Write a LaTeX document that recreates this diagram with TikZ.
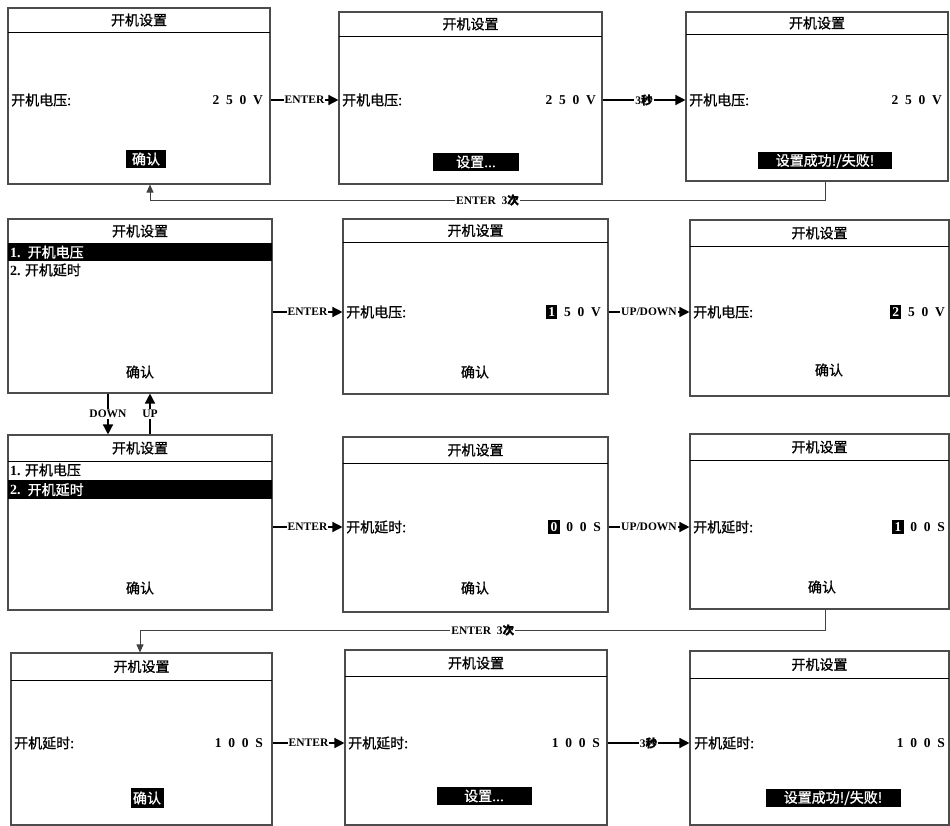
\documentclass[tikz,border=0pt]{standalone}
\usepackage{fontspec}
\setmainfont{Liberation Serif}
\newfontfamily\cjk{Noto Sans CJK SC}[FakeBold=1]
\usetikzlibrary{arrows.meta}
\newcommand{\hlt}[1]{{\setlength{\fboxsep}{2.2pt}\colorbox{black}{\textcolor{white}{#1}}}}
\tikzset{
 screen/.style={draw=black!70, line width=1.1pt, inner sep=0pt, rectangle},
 hdr/.style={draw=black, line width=0.9pt},
 ttl/.style={font=\cjk\fontsize{14}{16}\selectfont, inner sep=0pt},
 txt/.style={font=\cjk\fontsize{14}{16}\selectfont, inner sep=0pt},
 num/.style={font=\bfseries\fontsize{13.5}{15}\selectfont, inner sep=0pt},
 blk/.style={fill=black, text=white, font=\cjk\fontsize{14}{16}\selectfont, inner sep=0pt},
 bar/.style={fill=black, text=white, font=\cjk\fontsize{14}{16}\selectfont, inner ysep=0pt, inner xsep=2pt, align=left, anchor=north west},
 arr/.style={line width=1.4pt, -{Triangle[length=10pt,width=10pt]}},
 fb/.style={draw=black!75, line width=0.9pt, -{Triangle[length=8pt,width=7pt]}},
 lbl/.style={fill=white, font=\bfseries\fontsize{11.5}{13}\selectfont, inner sep=1pt}
}
\newcommand{\myscreen}[6]{%
 \node[screen, minimum width=#4pt, minimum height=#5pt] (#1) at ({#2+#4/2},{#3+#5/2}) {};
 \draw[hdr] (#2,{#3+#6}) -- ({#2+#4},{#3+#6});
 \node[ttl] (#1-t) at ({#2+#4/2},{#3+#6/2}) {开机设置};
}
\begin{document}
\begin{tikzpicture}[x=1pt,y=-1pt]
\useasboundingbox (0,0) rectangle (950,826);
\fill[white] (0,0) rectangle (950,826);

% screens
\myscreen{A}{8}{8}{262}{176}{24}
\myscreen{B}{339}{12}{263}{172}{24}
\myscreen{C}{686}{12}{262}{169}{22}
\myscreen{D}{8}{219}{264}{174}{24}
\myscreen{E}{343}{219}{265}{175}{23}
\myscreen{F}{690}{220}{259}{176}{26}
\myscreen{G}{8}{435}{264}{175}{26}
\myscreen{H}{343}{437}{265}{175}{26}
\myscreen{I}{690}{434}{259}{175}{26}
\myscreen{J}{11}{653}{261}{172}{27}
\myscreen{K}{345}{650}{262}{175}{26}
\myscreen{L}{690}{651}{259}{174}{27}

% row 1
\node[txt, anchor=west] (A-l) at (11,100) {开机电压:};
\node[num, anchor=east] (A-v) at (263,100) {2\ \ 5\ \ 0\ \ V};
\node[blk, minimum width=40pt, minimum height=18pt] (A-b) at (146,159) {确认};
\node[txt, anchor=west] (B-l) at (342,100) {开机电压:};
\node[num, anchor=east] (B-v) at (596,100) {2\ \ 5\ \ 0\ \ V};
\node[blk, minimum width=86pt, minimum height=18pt] (B-b) at (476,162) {设置...};
\node[txt, anchor=west] (C-l) at (689,100) {开机电压:};
\node[num, anchor=east] (C-v) at (942,100) {2\ \ 5\ \ 0\ \ V};
\node[blk, minimum width=134pt, minimum height=17pt] (C-b) at (825,161) {设置成功!/失败!};

% row 2
\node[bar, text width=260pt, minimum height=18pt] (D-1) at (8,243) {{\rmfamily\bfseries 1.} 开机电压};
\node[txt, anchor=west] (D-2) at (10,270) {{\rmfamily\bfseries 2.} 开机延时};
\node[txt] (D-c) at (140,372) {确认};
\node[txt, anchor=west] (E-l) at (346,312) {开机电压:};
\node[num, anchor=east] (E-v) at (601,312) {\hlt{1}\ \ 5\ \ 0\ \ V};
\node[txt] (E-c) at (475,372) {确认};
\node[txt, anchor=west] (F-l) at (693,312) {开机电压:};
\node[num, anchor=east] (F-v) at (945,312) {\hlt{2}\ \ 5\ \ 0\ \ V};
\node[txt] (F-c) at (829,370) {确认};

% row 3
\node[txt, anchor=west] (G-1) at (10,470) {{\rmfamily\bfseries 1.} 开机电压};
\node[bar, text width=260pt, minimum height=19pt] (G-2) at (8,480) {{\rmfamily\bfseries 2.} 开机延时};
\node[txt] (G-c) at (140,588) {确认};
\node[txt, anchor=west] (H-l) at (346,527) {开机延时:};
\node[num, anchor=east] (H-v) at (601,527) {\hlt{0}\ \ 0\ \ 0\ \ S};
\node[txt] (H-c) at (475,588) {确认};
\node[txt, anchor=west] (I-l) at (693,527) {开机延时:};
\node[num, anchor=east] (I-v) at (945,527) {\hlt{1}\ \ 0\ \ 0\ \ S};
\node[txt] (I-c) at (822,587) {确认};

% row 4
\node[txt, anchor=west] (J-l) at (14,743) {开机延时:};
\node[num, anchor=east] (J-v) at (263,743) {1\ \ 0\ \ 0\ \ S};
\node[blk, minimum width=33pt, minimum height=20pt] (J-b) at (147,798) {确认};
\node[txt, anchor=west] (K-l) at (348,743) {开机延时:};
\node[num, anchor=east] (K-v) at (600,743) {1\ \ 0\ \ 0\ \ S};
\node[blk, minimum width=95pt, minimum height=18pt] (K-b) at (484,796) {设置...};
\node[txt, anchor=west] (L-l) at (694,743) {开机延时:};
\node[num, anchor=east] (L-v) at (945,743) {1\ \ 0\ \ 0\ \ S};
\node[blk, minimum width=135pt, minimum height=18pt] (L-b) at (833,798) {设置成功!/失败!};

% horizontal arrows
\draw[arr] (A.east |- A-v) -- node[lbl]{ENTER} (B.west |- A-v);
\draw[arr] (B.east |- B-v) -- node[lbl]{3{\cjk 秒}} (C.west |- B-v);
\draw[arr] (D.east |- E-v) -- node[lbl]{ENTER} (E.west |- E-v);
\draw[arr] (E.east |- E-v) -- node[lbl]{UP/DOWN} (F.west |- E-v);
\draw[arr] (G.east |- H-v) -- node[lbl]{ENTER} (H.west |- H-v);
\draw[arr] (H.east |- H-v) -- node[lbl]{UP/DOWN} (I.west |- H-v);
\draw[arr] (J.east |- J-v) -- node[lbl]{ENTER} (K.west |- J-v);
\draw[arr] (K.east |- K-v) -- node[lbl]{3{\cjk 秒}} (L.west |- K-v);

% down / up
\draw[arr] ([xshift=-32pt]D.south) -- node[lbl]{DOWN} ([xshift=-32pt]D.south |- G.north);
\draw[arr] ([xshift=10pt]D.south |- G.north) -- node[lbl]{UP} ([xshift=10pt]D.south);

% feedback loops
\coordinate (fb1) at (150,200);
\draw[fb] ([xshift=8pt]C.south) |- node[pos=0.75, lbl]{ENTER\ \ 3{\cjk 次}} (fb1) -- (fb1 |- A.south);
\coordinate (fb2) at (140,630);
\draw[fb] ([xshift=6pt]I.south) |- node[pos=0.75, lbl]{ENTER\ \ 3{\cjk 次}} (fb2) -- (fb2 |- J.north);
\end{tikzpicture}
\end{document}
